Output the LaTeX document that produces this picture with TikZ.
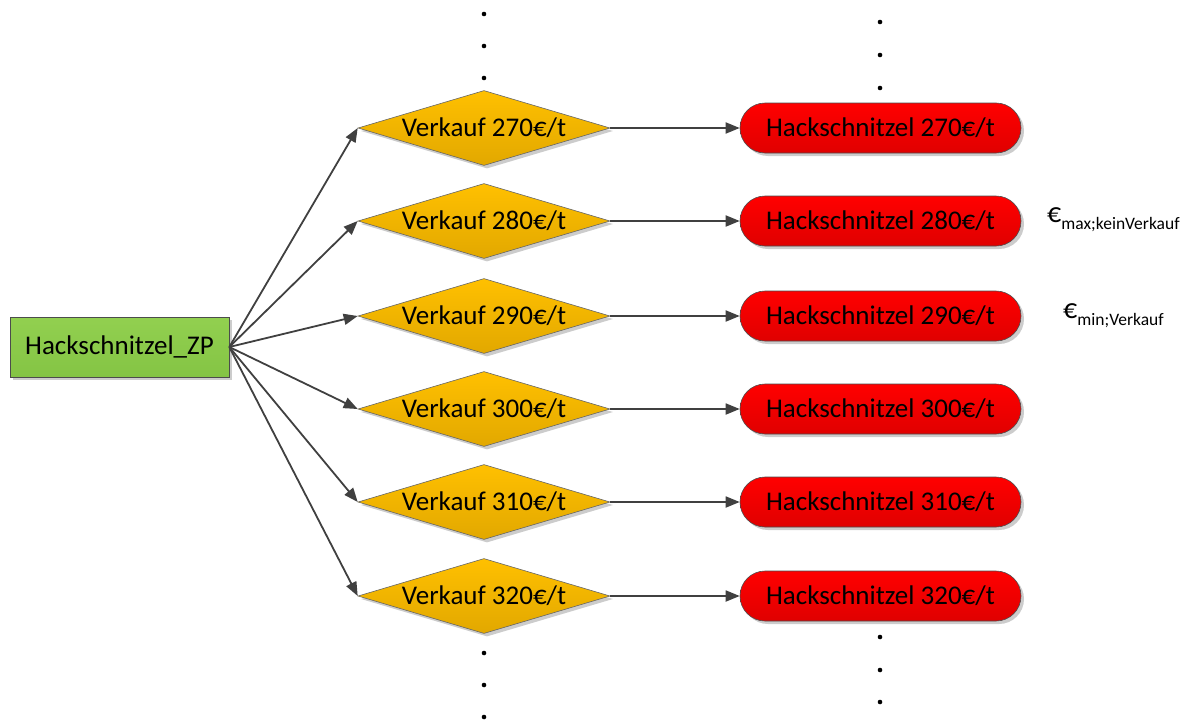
\documentclass[tikz,border=0pt]{standalone}
\usepackage{fontspec}
\setmainfont{Carlito}
\usetikzlibrary{shapes.geometric,arrows.meta,shadows}
\definecolor{arrowgray}{HTML}{404040}
\definecolor{greentop}{HTML}{92D050}
\definecolor{greenbot}{HTML}{84C444}
\definecolor{goldtop}{HTML}{FFC000}
\definecolor{goldbot}{HTML}{E2A800}
\definecolor{redtop}{HTML}{FF0000}
\definecolor{redbot}{HTML}{E00000}
\tikzset{
  lbl/.style={font=\fontsize{27}{31}\selectfont, text=black},
  shad/.style={drop shadow={shadow xshift=3pt, shadow yshift=-3pt, fill=black!20, opacity=1}},
  startbox/.style={lbl, rectangle, draw=black!70, line width=0.6pt, top color=greentop, bottom color=greenbot, minimum width=219pt, minimum height=60pt, inner sep=0pt, shad},
  salebox/.style={lbl, diamond, draw=black!60, line width=0.6pt, top color=goldtop, bottom color=goldbot, shape aspect=3.36, minimum width=252pt, minimum height=75pt, inner sep=0pt, shad},
  endbox/.style={lbl, rectangle, rounded corners=25pt, draw=black!70, line width=0.6pt, top color=redtop, bottom color=redbot, minimum width=281pt, minimum height=50pt, inner sep=0pt, shad},
  conn/.style={draw=arrowgray, line width=1.8pt, -{Triangle[length=14pt,width=11pt]}},
  dot/.style={fill=black},
  note/.style={font=\fontsize{28}{32}\selectfont, text=black, anchor=west, inner sep=0pt}
}
\begin{document}
\begin{tikzpicture}[x=1pt,y=-1pt]
\useasboundingbox (0,0) rectangle (1190,720);
\node[startbox] (zp) at (119.5,347) {Hackschnitzel\_ZP};
\foreach \p/\y in {270/128,280/221,290/316,300/409,310/502,320/596}{
  \node[salebox] (v\p) at (484,\y) {Verkauf \p€/t};
  \node[endbox] (h\p) at (880.5,\y) {Hackschnitzel \p€/t};
  \draw[conn] (zp.east) -- (v\p.west);
  \draw[conn] (v\p.east) -- (h\p.west);
}
\node[note] (nmax) at (1047,220) {€\raisebox{-7pt}{\fontsize{17.5}{20}\selectfont max;keinVerkauf}};
\node[note] (nmin) at (1063,316) {€\raisebox{-7pt}{\fontsize{17.5}{20}\selectfont min;Verkauf}};
\foreach \y in {14,46,78,653,685,717}{\fill[dot] (484,\y) circle (2.3pt);}
\foreach \y in {22,55,88,637,670,702}{\fill[dot] (880,\y) circle (2.3pt);}
\end{tikzpicture}
\end{document}
